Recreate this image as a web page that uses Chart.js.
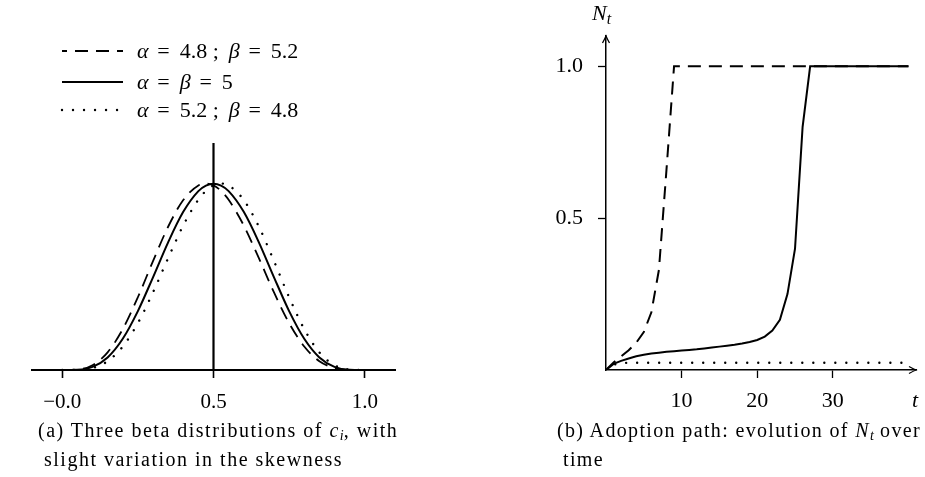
<!DOCTYPE html>
<html>
<head>
<meta charset="utf-8">
<script src="https://cdn.jsdelivr.net/npm/chart.js@4.4.1/dist/chart.umd.min.js"></script>
<style>
  html, body { margin: 0; padding: 0; background: #fff; }
  body { width: 925px; height: 477px; position: relative; overflow: hidden; font-family: "Liberation Serif", serif; color: #000; }
  canvas { position: absolute; top: 0; }
  #betaChart { left: 0; }
  #pathChart { left: 462px; }
  .cap { position: absolute; font-size: 20px; line-height: 20px; letter-spacing: 1.5px; white-space: nowrap; }
  .cap.b { letter-spacing: 1.35px; }
  .cap sub { font-size: 14px; vertical-align: -3px; line-height: 0; letter-spacing: 0; }
</style>
</head>
<body>
<canvas id="betaChart" width="462" height="477" style="width:462px;height:477px"></canvas>
<canvas id="pathChart" width="463" height="477" style="width:463px;height:477px"></canvas>

<div class="cap" style="left:38px; top:420px;">(a) Three beta distributions of <i>c<sub>i</sub></i>, with</div>
<div class="cap" style="left:44px; top:449px;">slight variation in the skewness</div>
<div class="cap b" style="left:557px; top:420px;">(b) Adoption path: evolution of <i>N<sub>t</sub></i> over</div>
<div class="cap b" style="left:563px; top:449px;">time</div>

<script>
// ---- panel (a): beta densities of c_i ----
const betaGrid = [0, 0.05, 0.1, 0.15, 0.2, 0.25, 0.3, 0.35, 0.4, 0.45, 0.475, 0.5,
                  0.525, 0.55, 0.6, 0.65, 0.7, 0.75, 0.8, 0.85, 0.9, 0.95, 1];
const densLeft = [0, 0.0057, 0.0636, 0.2335, 0.5400, 0.9615, 1.4387, 1.8932, 2.2468, 2.4391, 2.4638, 2.4393,
                  2.3671, 2.2509, 1.9104, 1.4780, 1.0251, 0.6196, 0.3102, 0.1167, 0.0264, 0.0018, 0];
const densMid = [0, 0.0032, 0.0413, 0.1665, 0.4129, 0.7787, 1.2252, 1.6876, 2.0902, 2.3640, 2.4364, 2.4609,
                 2.4364, 2.3640, 2.0902, 1.6876, 1.2252, 0.7787, 0.4129, 0.1665, 0.0413, 0.0032, 0];
const densRight = [0, 0.0018, 0.0264, 0.1167, 0.3102, 0.6196, 1.0251, 1.4780, 1.9104, 2.2509, 2.3671, 2.4393,
                   2.4638, 2.4391, 2.2468, 1.8932, 1.4387, 0.9615, 0.5400, 0.2335, 0.0636, 0.0057, 0];
const betaLabels = ['α = 4.8 ; β = 5.2', 'α = β = 5', 'α = 5.2 ; β = 4.8'];
const meanLineX = [0.5, 0.5];
const meanLineY = [0, 3];
const betaTicks = [0, 0.5, 1];

// ---- panel (b): adoption path N_t ----
const periods = [0, 1, 2, 3, 4, 5, 6, 7, 8, 9, 10, 11, 12, 13, 14, 15, 16, 17, 18, 19, 20,
                 21, 22, 23, 24, 25, 26, 27, 28, 29, 30, 31, 32, 33, 34, 35, 36, 37, 38, 39, 40];
const pathFast = [0, 0.025, 0.045, 0.065, 0.09, 0.125, 0.19, 0.33, 0.66, 1, 1,
                  1, 1, 1, 1, 1, 1, 1, 1, 1, 1,
                  1, 1, 1, 1, 1, 1, 1, 1, 1, 1,
                  1, 1, 1, 1, 1, 1, 1, 1, 1, 1];
const pathMid = [0, 0.02, 0.03, 0.038, 0.045, 0.05, 0.054, 0.057, 0.06, 0.062, 0.064,
                 0.066, 0.068, 0.071, 0.074, 0.077, 0.08, 0.083, 0.087, 0.092, 0.099,
                 0.11, 0.13, 0.165, 0.25, 0.40, 0.80, 1, 1, 1, 1,
                 1, 1, 1, 1, 1, 1, 1, 1, 1, 1];
const pathNone = [0, 0.018, 0.022, 0.024, 0.024, 0.024, 0.024, 0.024, 0.024, 0.024, 0.024,
                  0.024, 0.024, 0.024, 0.024, 0.024, 0.024, 0.024, 0.024, 0.024, 0.024,
                  0.024, 0.024, 0.024, 0.024, 0.024, 0.024, 0.024, 0.024, 0.024, 0.024,
                  0.024, 0.024, 0.024, 0.024, 0.024, 0.024, 0.024, 0.024, 0.024, 0.024];
const tTicks = [10, 20, 30];
const nTicks = [0.5, 1.0];

const SERIF = '"Liberation Serif", "DejaVu Serif", serif';
const DASH = [13, 8];
const DOT = [0.01, 11];

function zip(xs, ys) {
  return xs.map((x, i) => ({ x: x, y: ys[i] }));
}

// greek letters italic, the rest upright, like TeX math
function drawMath(ctx, text, x, y, size) {
  const parts = text.split(' ');
  let cx = x;
  parts.forEach((p, i) => {
    const greek = /[α-ω]/.test(p);
    ctx.font = (greek ? 'italic ' : '') + size + 'px ' + SERIF;
    if (p === '=') cx += size * 0.25;
    if (p === ';') cx += size * 0.1;
    ctx.fillText(p, cx, y);
    cx += ctx.measureText(p).width;
    if (p === '=' || p === ';') cx += size * 0.45;
    else if (i < parts.length - 1) cx += size * 0.15;
  });
}

function arrowHead(ctx, x, y, angle) {
  ctx.save();
  ctx.translate(x, y);
  ctx.rotate(angle);
  ctx.beginPath();
  ctx.moveTo(-7, -3.5);
  ctx.quadraticCurveTo(-2.5, -1, 0, 0);
  ctx.quadraticCurveTo(-2.5, 1, -7, 3.5);
  ctx.lineWidth = 1.3;
  ctx.strokeStyle = '#000';
  ctx.stroke();
  ctx.restore();
}

const betaLegend = {
  id: 'betaLegend',
  afterDraw(chart) {
    const ctx = chart.ctx;
    const rows = [51, 82, 110];
    ctx.save();
    ctx.fillStyle = '#000';
    ctx.textBaseline = 'alphabetic';
    chart.data.datasets.slice(0, 3).forEach((ds, i) => {
      const y = rows[i];
      ctx.beginPath();
      ctx.setLineDash(ds.borderDash || []);
      ctx.lineDashOffset = ds.borderDash && ds.borderDash[0] > 1 ? 8 : 0;
      ctx.lineCap = ds.borderCapStyle || 'butt';
      ctx.lineWidth = ds.borderWidth;
      ctx.strokeStyle = '#000';
      ctx.moveTo(62, y);
      ctx.lineTo(123, y);
      ctx.stroke();
      ctx.setLineDash([]);
      drawMath(ctx, ds.label, 137, y + 7, 22);
    });
    ctx.restore();
  }
};

const pathDecor = {
  id: 'pathDecor',
  afterDraw(chart) {
    const ctx = chart.ctx;
    const a = chart.chartArea;
    ctx.save();
    arrowHead(ctx, a.left, a.top, -Math.PI / 2);
    arrowHead(ctx, a.right, a.bottom, 0);
    ctx.fillStyle = '#000';
    ctx.textAlign = 'left';
    ctx.textBaseline = 'alphabetic';
    ctx.font = 'italic 22px ' + SERIF;
    ctx.fillText('N', a.left - 14, a.top - 16);
    const nw = ctx.measureText('N').width;
    ctx.font = 'italic 16px ' + SERIF;
    ctx.fillText('t', a.left - 14 + nw, a.top - 12);
    ctx.font = 'italic 22px ' + SERIF;
    ctx.textAlign = 'center';
    ctx.fillText('t', a.right - 1, a.bottom + 37);
    ctx.restore();
  }
};

new Chart(document.getElementById('betaChart'), {
  type: 'line',
  data: {
    datasets: [
      { label: betaLabels[0], data: zip(betaGrid, densLeft), borderDash: DASH, borderWidth: 1.8 },
      { label: betaLabels[1], data: zip(betaGrid, densMid), borderWidth: 2 },
      { label: betaLabels[2], data: zip(betaGrid, densRight), borderDash: DOT, borderCapStyle: 'round', borderWidth: 2.4 },
      { label: 'mean', data: zip(meanLineX, meanLineY), borderWidth: 2.2 }
    ]
  },
  options: {
    responsive: false,
    animation: false,
    devicePixelRatio: 1,
    layout: { padding: { left: 32, right: 67, top: 143, bottom: 67 } },
    elements: {
      point: { radius: 0 },
      line: { borderColor: '#000', fill: false, cubicInterpolationMode: 'monotone' }
    },
    scales: {
      x: {
        type: 'linear', min: -0.1, max: 1.1,
        afterBuildTicks: s => { s.ticks = betaTicks.map(v => ({ value: v })); },
        afterFit: s => { s.height = 40; },
        grid: { drawOnChartArea: false, drawTicks: true, tickLength: 8, tickColor: '#000', tickWidth: 1.6 },
        border: { display: true, color: '#000', width: 2 },
        ticks: {
          color: '#000', padding: 12, maxRotation: 0, autoSkip: false,
          font: { family: SERIF, size: 21 },
          callback: v => (v === 0 ? '−0.0' : v.toFixed(1))
        }
      },
      y: { type: 'linear', min: 0, max: 3, display: false }
    },
    plugins: { legend: { display: false }, tooltip: { enabled: false } }
  },
  plugins: [betaLegend]
});

new Chart(document.getElementById('pathChart'), {
  type: 'line',
  data: {
    datasets: [
      { label: 'fast', data: zip(periods, pathFast), borderDash: DASH, borderWidth: 2 },
      { label: 'mid', data: zip(periods, pathMid), borderWidth: 2 },
      { label: 'none', data: zip(periods, pathNone), borderDash: DOT, borderCapStyle: 'round', borderWidth: 2.4 }
    ]
  },
  options: {
    responsive: false,
    animation: false,
    devicePixelRatio: 1,
    layout: { padding: { left: 44, right: 9, top: 36, bottom: 57 } },
    elements: {
      point: { radius: 0 },
      line: { borderColor: '#000', fill: false, tension: 0 }
    },
    scales: {
      x: {
        type: 'linear', min: 0, max: 41,
        afterBuildTicks: s => { s.ticks = tTicks.map(v => ({ value: v })); },
        afterFit: s => { s.height = 50; },
        grid: { drawOnChartArea: false, drawTicks: true, tickLength: 8, tickColor: '#000', tickWidth: 1.3 },
        border: { display: true, color: '#000', width: 1.5 },
        ticks: { color: '#000', padding: 10, maxRotation: 0, autoSkip: false, font: { family: SERIF, size: 22 } }
      },
      y: {
        type: 'linear', min: 0, max: 1.1,
        afterBuildTicks: s => { s.ticks = nTicks.map(v => ({ value: v })); },
        afterFit: s => { s.width = 100; },
        grid: { drawOnChartArea: false, drawTicks: true, tickLength: 8, tickColor: '#000', tickWidth: 1.3 },
        border: { display: true, color: '#000', width: 1.5 },
        ticks: { color: '#000', padding: 15, autoSkip: false, font: { family: SERIF, size: 22 }, callback: v => v.toFixed(1) }
      }
    },
    plugins: { legend: { display: false }, tooltip: { enabled: false } }
  },
  plugins: [pathDecor]
});
</script>
</body>
</html>
